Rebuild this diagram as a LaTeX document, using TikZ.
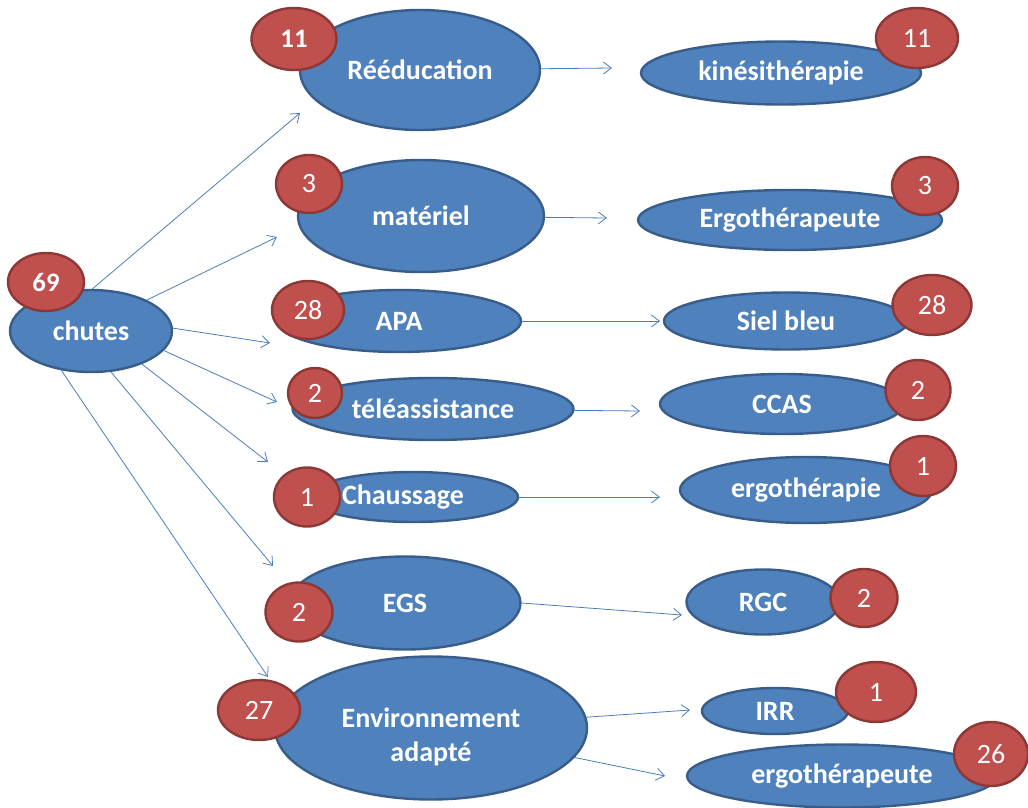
\documentclass[tikz,border=0pt]{standalone}
\usepackage{fontspec}
\setmainfont{Carlito}
\usetikzlibrary{shapes.geometric, arrows.meta}

\definecolor{boxblue}{HTML}{4F81BD}
\definecolor{boxedge}{HTML}{385D8A}
\definecolor{badgered}{HTML}{C0504D}
\definecolor{badgeedge}{HTML}{8C3836}
\definecolor{linkblue}{HTML}{4A7EBB}

\begin{document}
\begin{tikzpicture}[
    x=0.75pt, y=-0.75pt,
    >={Straight Barb[length=6pt,width=9pt]},
    sz/.style 2 args ={minimum width=#1*0.75pt, minimum height=#2*0.75pt},
    topic/.style     ={ellipse, draw=boxedge, line width=1.8pt, fill=boxblue,
                       inner sep=0pt, text=white, align=center,
                       font=\bfseries\fontsize{21}{25}\selectfont},
    count/.style     ={ellipse, draw=badgeedge, line width=1.8pt, fill=badgered,
                       inner sep=0pt, text=white, font=\fontsize{21}{22}\selectfont},
    bigcount/.style  ={count, font=\bfseries\fontsize{20}{22}\selectfont},
    link/.style      ={->, linkblue, line width=0.6pt}
]
\useasboundingbox (0,0) rectangle (1028,807);

% Left column
\node[topic, sz={162}{82}]  (chutes) at (91,331)  {chutes};
\node[topic, sz={240}{120}] (reeduc) at (420,70)  {Rééducation};
\node[topic, sz={246}{112}] (mat)    at (421,216) {matériel};
\node[topic, sz={244}{62}]  (apa)    at (399,321) {APA};
\node[topic, sz={281}{62}]  (tele)   at (433,409) {téléassistance};
\node[topic, sz={210}{50}]  (chauss) at (413,497) {Chaussage\hspace{15pt}};
\node[topic, sz={231}{93}]  (egs)    at (405,603) {EGS};
\node[topic, sz={312}{143}] (env)    at (431,728) {\rule{0pt}{28pt}Environnement\\adapté};

% Right column
\node[topic, sz={280}{63}]  (kine)   at (781,73)  {kinésithérapie};
\node[topic, sz={304}{60}]  (ergo)   at (790,220) {Ergothérapeute};
\node[topic, sz={244}{57}]  (siel)   at (786,321) {Siel bleu};
\node[topic, sz={244}{60}]  (ccas)   at (782,404) {CCAS};
\node[topic, sz={252}{66}]  (ergoth) at (806,490) {ergothérapie};
\node[topic, sz={153}{65}]  (rgc)    at (763,602) {RGC};
\node[topic, sz={146}{46}]  (irr)    at (775,711) {IRR};
\node[topic, sz={310}{63}]  (ergop)  at (842,776) {ergothérapeute};

% Counts
\node[bigcount, sz={76}{58}] (n69)   at (46,282)  {69};
\node[bigcount, sz={85}{62}] (n11a)  at (294,39)  {11};
\node[count, sz={66}{58}]    (n3a)   at (309,184) {3};
\node[count, sz={72}{58}]    (n28a)  at (308,310) {28};
\node[count, sz={54}{50}]    (n2a)   at (315,393) {2};
\node[count, sz={66}{59}]    (n1a)   at (307,497) {1};
\node[count, sz={67}{59}]    (n2b)   at (299,612) {2};
\node[count, sz={82}{60}]    (n27)   at (259,710) {27};
\node[count, sz={82}{60}]    (n11b)  at (917,38)  {11};
\node[count, sz={66}{58}]    (n3b)   at (925,186) {3};
\node[count, sz={79}{60}]    (n28b)  at (932,305) {28};
\node[count, sz={65}{60}]    (n2c)   at (918,390) {2};
\node[count, sz={66}{60}]    (n1b)   at (923,466) {1};
\node[count, sz={67}{58}]    (n2d)   at (864,598) {2};
\node[count, sz={80}{60}]    (n1c)   at (876,692) {1};
\node[count, sz={74}{64}]    (n26)   at (991,754) {26};

% Arrow tips
\coordinate (t1) at (300,113);
\coordinate (t2) at (277,237);
\coordinate (t3) at (270,343);
\coordinate (t4) at (277,402);
\coordinate (t5) at (268,462);
\coordinate (t6) at (273,566);
\coordinate (t7) at (268,677);
\coordinate (r1) at (612,68);
\coordinate (r2) at (607,218);
\coordinate (r3) at (660,321);
\coordinate (r4) at (640,411);
\coordinate (r5) at (660,497);
\coordinate (r6) at (682,615);
\coordinate (r7) at (690,710);
\coordinate (r8) at (665,776);

% --- Arrows ---
\draw[link] (chutes.88)   -- (t1);
\draw[link] (chutes.29)   -- (t2);
\draw[link] (chutes.2)    -- (t3);
\draw[link] (chutes.-15)  -- (t4);
\draw[link] (chutes.-33)  -- (t5);
\draw[link] (chutes.-64)  -- (t6);
\draw[link] (chutes.-127) -- (t7);

\draw[link] (reeduc) -- (r1);
\draw[link] (mat) -- (r2);
\draw[link] (apa) -- (r3);
\draw[link] (tele) -- (r4);
\draw[link] (chauss) -- (r5);
\draw[link] (egs.east) -- (r6);
\draw[link] (env) -- (r7);
\draw[link] (env) -- (r8);

\end{tikzpicture}
\end{document}
